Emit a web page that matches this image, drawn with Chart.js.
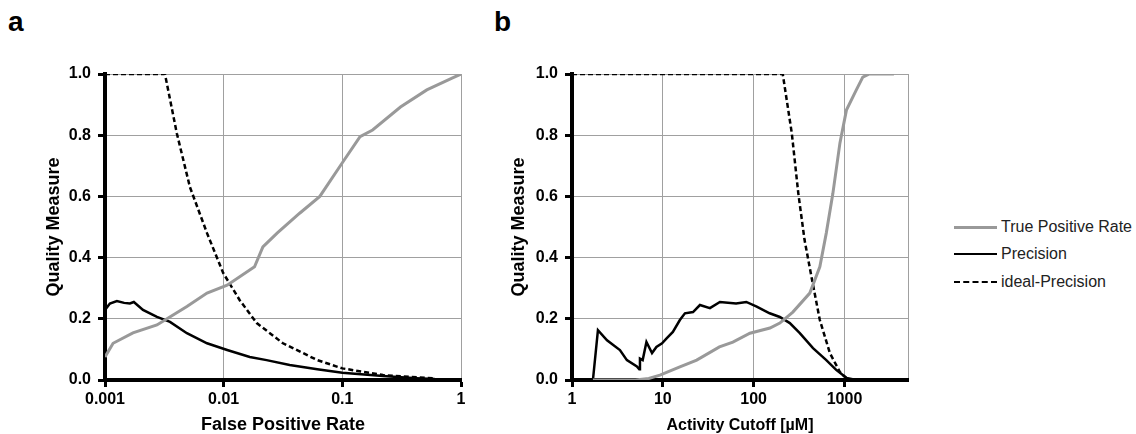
<!DOCTYPE html>
<html>
<head>
<meta charset="utf-8">
<script src="https://cdn.jsdelivr.net/npm/chart.js@4.4.1/dist/chart.umd.min.js"></script>
<style>
  html, body { margin:0; padding:0; background:#fff; }
  body { width:1136px; height:434px; position:relative; overflow:hidden; font-family:"Liberation Sans", Arial, sans-serif; }
  canvas { position:absolute; top:0; }
  #ca { left:0; }
  #cb { left:470px; }
  .panel { position:absolute; top:8px; font:bold 28px "Liberation Sans", Arial, sans-serif; line-height:28px; color:#000; }
  .leg { position:absolute; left:954px; height:20px; display:flex; align-items:center; font:16px "Liberation Sans", Arial, sans-serif; color:#222; }
  .leg .ln { width:43px; height:0; margin-right:4px; }
</style>
</head>
<body>
<div class="panel" style="left:8px">a</div>
<div class="panel" style="left:494px">b</div>
<canvas id="ca" width="470" height="434"></canvas>
<canvas id="cb" width="450" height="434"></canvas>
<div class="leg" style="top:217px"><span class="ln" style="border-top:3px solid #999"></span>True Positive Rate</div>
<div class="leg" style="top:244px"><span class="ln" style="border-top:2.5px solid #000"></span>Precision</div>
<div class="leg" style="top:272px"><span class="ln" style="border-top:2.5px dashed #000"></span>ideal-Precision</div>
<script>
// ---------- Panel a: quality vs false positive rate ----------
const tprAX   = [0.001, 0.00117, 0.00172, 0.00274, 0.00333, 0.0049, 0.00724, 0.0107, 0.0182, 0.0214, 0.0282, 0.0437, 0.0646, 0.1, 0.141, 0.18, 0.309, 0.515, 0.85, 1];
const tprA    = [0.075, 0.12, 0.154, 0.18, 0.2, 0.24, 0.284, 0.31, 0.37, 0.435, 0.48, 0.545, 0.6, 0.71, 0.795, 0.817, 0.892, 0.948, 0.987, 1.0];
const precAX  = [0.001, 0.0011, 0.00126, 0.00145, 0.00162, 0.00175, 0.00209, 0.00274, 0.00353, 0.0049, 0.00724, 0.0107, 0.0166, 0.023, 0.036, 0.0615, 0.1, 0.22, 0.42, 0.6];
const precA   = [0.229, 0.25, 0.258, 0.252, 0.25, 0.255, 0.229, 0.206, 0.19, 0.153, 0.12, 0.098, 0.075, 0.065, 0.049, 0.035, 0.024, 0.013, 0.006, 0.003];
const idealAX = [0.001, 0.0032, 0.00403, 0.0052, 0.00724, 0.0099, 0.0137, 0.019, 0.0316, 0.0615, 0.1, 0.22, 0.6];
const idealA  = [1.0, 1.0, 0.806, 0.63, 0.48, 0.35, 0.26, 0.186, 0.12, 0.065, 0.038, 0.016, 0.005];
const xTicksA = [0.001, 0.01, 0.1, 1];
const xLabelsA = ['0.001', '0.01', '0.1', '1'];

// ---------- Panel b: quality vs activity cutoff ----------
const tprBX   = [1.7, 5.0, 7.0, 9.3, 15.4, 23.6, 42, 59, 91, 151, 194, 270, 415, 535, 630, 745, 890, 1050, 1350, 1590, 1880, 3500];
const tprB    = [0, 0, 0.005, 0.016, 0.043, 0.065, 0.108, 0.124, 0.153, 0.17, 0.186, 0.222, 0.284, 0.37, 0.48, 0.61, 0.774, 0.882, 0.948, 0.99, 1.0, 1.0];
const precBX  = [1, 1.7, 1.93, 2.43, 3.37, 4.02, 5.18, 5.5, 5.6, 6.0, 6.6, 7.6, 8.5, 9.8, 11, 12.9, 15.4, 17.5, 21.5, 25.6, 33, 42.5, 64, 83, 108, 150, 194, 250, 322, 450, 630, 810, 1050, 1350];
const precB   = [0, 0, 0.163, 0.13, 0.098, 0.065, 0.044, 0.035, 0.07, 0.065, 0.124, 0.088, 0.108, 0.12, 0.136, 0.157, 0.196, 0.218, 0.222, 0.245, 0.235, 0.255, 0.25, 0.255, 0.24, 0.218, 0.206, 0.186, 0.153, 0.104, 0.065, 0.033, 0.007, 0];
const idealBX = [1, 209, 263, 310, 363, 433, 535, 690, 890, 1050, 1200];
const idealB  = [1, 1, 0.806, 0.61, 0.458, 0.337, 0.196, 0.088, 0.026, 0.005, 0];
const xTicksB = [1, 10, 100, 1000, 5000];
const xLabelsB = ['1', '10', '100', '1000', ''];

const yTicks = [0, 0.2, 0.4, 0.6, 0.8, 1.0];

const FONT = "'Liberation Sans', Arial, sans-serif";
const pts = (xs, ys) => xs.map((x, i) => ({x, y: ys[i]}));

function makeChart(id, cfg) {
  const datasets = [
    {label:'True Positive Rate', data: pts(cfg.tx, cfg.ty), borderColor:'#999999', borderWidth:3},
    {label:'Precision', data: pts(cfg.px, cfg.py), borderColor:'#000000', borderWidth:2.5},
    {label:'ideal-Precision', data: pts(cfg.ix, cfg.iy), borderColor:'#000000', borderWidth:2.5, borderDash:[5,3]}
  ].map(d => Object.assign(d, {pointRadius:0, tension:0, fill:false}));
  return new Chart(document.getElementById(id), {
    type:'line',
    data:{datasets},
    options:{
      responsive:false, animation:false, devicePixelRatio:1,
      layout:{padding:{left:0, top:74, right:cfg.padRight, bottom:0}},
      plugins:{legend:{display:false}, tooltip:{enabled:false}},
      scales:{
        x:{
          type:'logarithmic', min:cfg.xmin, max:cfg.xmax,
          afterBuildTicks: s => { s.ticks = cfg.xticks.map(v => ({value:v})); },
          afterFit: s => { s.height = 54; },
          ticks:{ autoSkip:false, maxRotation:0, padding:3, color:'#000',
                  font:{family:FONT, size:16, weight:'bold'},
                  callback:(v) => { const i = cfg.xticks.indexOf(v); return i >= 0 ? cfg.xlabels[i] : ''; } },
          grid:{ color:'#a0a0a0', lineWidth:1, tickLength:7, tickWidth:3,
                 tickColor: c => (c.tick && cfg.xlabels[cfg.xticks.indexOf(c.tick.value)] === '') ? 'rgba(0,0,0,0)' : '#000' },
          border:{ color:'#000', width:4 },
          title:{ display:true, text:cfg.xtitle, color:'#000', padding:{top:0,bottom:0},
                  font:{family:FONT, size:cfg.xtitleSize, weight:'bold', lineHeight:1} }
        },
        y:{
          min:0, max:1,
          afterBuildTicks: s => { s.ticks = yTicks.map(v => ({value:v})); },
          afterFit: s => { s.width = cfg.yWidth; },
          ticks:{ padding:7, color:'#000', font:{family:FONT, size:16, weight:'bold'},
                  callback: v => Number(v).toFixed(1) },
          grid:{ color:'#a0a0a0', lineWidth:1, tickLength:7, tickWidth:3, tickColor:'#000' },
          border:{ color:'#000', width:4 },
          title:{ display:true, text:'Quality Measure', color:'#000', padding:{top:cfg.ytitlePad,bottom:0},
                  font:{family:FONT, size:18, weight:'bold', lineHeight:1} }
        }
      }
    }
  });
}

makeChart('ca', {tx:tprAX, ty:tprA, px:precAX, py:precA, ix:idealAX, iy:idealA,
  xmin:0.001, xmax:1, xticks:xTicksA, xlabels:xLabelsA, xtitle:'False Positive Rate', xtitleSize:18,
  padRight:9, yWidth:105, ytitlePad:45});
makeChart('cb', {tx:tprBX, ty:tprB, px:precBX, py:precB, ix:idealBX, iy:idealB,
  xmin:1, xmax:5000, xticks:xTicksB, xlabels:xLabelsB, xtitle:'Activity Cutoff [µM]', xtitleSize:16,
  padRight:12, yWidth:102, ytitlePad:40});
</script>
</body>
</html>
